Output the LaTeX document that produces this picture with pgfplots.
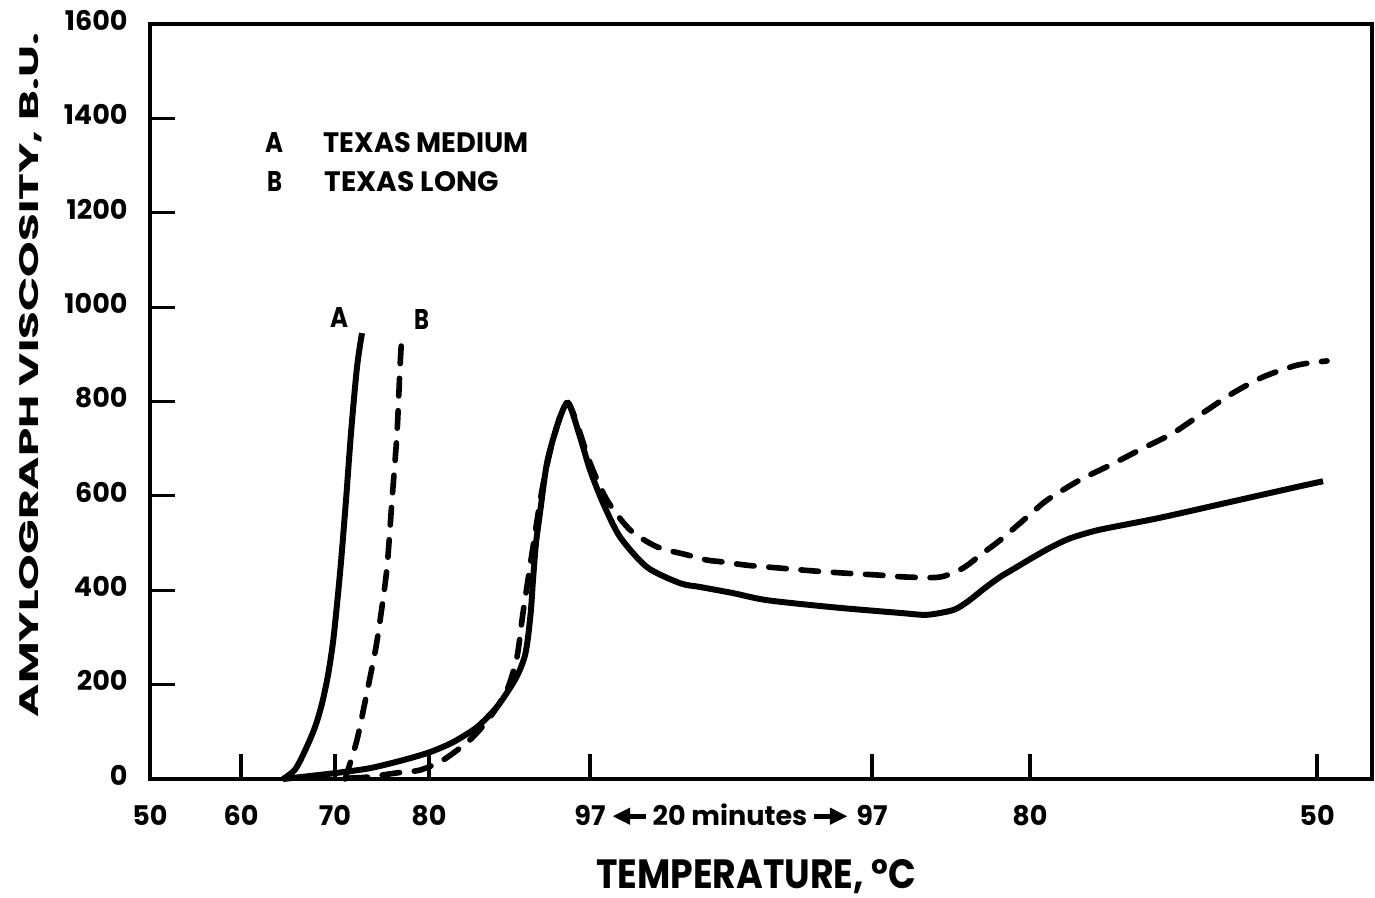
\documentclass[border=0pt]{standalone}
\usepackage{pgfplots}
\pgfplotsset{compat=1.18}
\usepackage{fontspec}
\setmainfont{Poppins}
\usetikzlibrary{arrows.meta}
\newcommand{\tl}{\bfseries\fontsize{7.7pt}{9pt}\selectfont}
\newcommand{\larr}{\tikz[baseline=-0.62ex]\draw[line width=1.3pt,{Triangle[length=5pt,width=4.5pt]}-](0pt,0pt)--(9.5pt,0pt);}
\newcommand{\rarr}{\tikz[baseline=-0.62ex]\draw[line width=1.3pt,-{Triangle[length=5pt,width=4.5pt]}](0pt,0pt)--(9.5pt,0pt);}
\newcommand{\midlabel}{\larr\,20 minutes\,\rarr}
\begin{document}
\begin{tikzpicture}
\begin{axis}[
  at={(0,0)}, anchor=south west,
  scale only axis, width=12.22cm, height=7.55cm,
  xmin=0, xmax=1222, ymin=0, ymax=1600,
  axis line style={line width=1.4pt},
  xtick={0,91,185,279,440,722,880,1167},
  xticklabels={50,60,70,80,97,97,80,50},
  extra x ticks={580},
  extra x tick labels={{\midlabel}},
  extra x tick style={major tick length=0pt},
  ytick={0,200,...,1600},
  xtick pos=bottom, ytick pos=left,
  tick align=inside,
  major tick length=0.25cm,
  every tick/.style={line width=0.9pt, black},
  tick label style={font=\tl},
  typeset ticklabels with strut,
  /pgf/number format/assume math mode=true,
  /pgf/number format/1000 sep={},
  yticklabel style={xshift=-0.1cm},
  xticklabel style={yshift=-0.12cm},
  xlabel={\resizebox{3.2cm}{0.29cm}{\bfseries TEMPERATURE, °C}},
  xlabel style={at={(axis description cs:0.496,-0.145)}, anchor=base, inner sep=0pt},
  ylabel={\resizebox{6.84cm}{0.19cm}{\bfseries AMYLOGRAPH VISCOSITY, B.U.}},
  ylabel style={at={(axis description cs:-0.098,0.535)}, anchor=center, inner sep=0pt},
  clip=false,
]
% Curve A (Texas Medium), early rise
\addplot[black, line width=1.7pt, smooth, tension=0.5] coordinates {
(133,0)(145,20)(155,60)(165,110)(172,160)(178,220)(183,290)(187,370)(191,460)(196,591)(201,733)(207,873)(212,945)};
% Curve B (Texas Long), early rise
\addplot[black, line width=1.6pt, smooth, tension=0.5, line cap=round, dash pattern=on 5pt off 4.2pt] coordinates {
(195,0)(198,19)(207,83)(214,153)(220,215)(226,280)(231,350)(237,449)(242,591)(247,733)(250,873)(252,945)};
% Main curve, Texas Medium (solid)
\addplot[black, line width=1.7pt, smooth, tension=0.45] coordinates {
(133,0)(187,13)(220,23)(253,40)(280,57)(303,78)(327,110)(347,153)(363,203)(370,232)(375,262)(378,300)(381,360)(383,422)(386,500)(390,564)(397,670)(408,754)(418,797)(430,725)(440,655)(453,585)(470,513)(497,449)(530,415)(550,407)(583,394)(617,379)(683,364)(750,352)(777,348)(803,358)(817,375)(835,405)(850,428)(865,447)(880,466)(900,490)(920,510)(947,527)(980,541)(1013,555)(1080,587)(1147,619)(1173,631)};
% Main curve, Texas Long (dashed)
\addplot[black, line width=1.6pt, smooth, tension=0.45, line cap=round, dash pattern=on 5pt off 4.2pt] coordinates {
(200,2)(217,4)(247,13)(270,19)(293,40)(320,83)(340,131)(357,189)(367,259)(373,352)(383,492)(392,612)(403,718)(418,797)(440,670)(457,591)(480,528)(507,492)(537,475)(557,464)(573,460)(597,453)(630,447)(663,441)(697,436)(730,432)(757,428)(790,428)(813,447)(833,479)(850,506)(877,555)(897,591)(930,634)(960,665)(993,701)(1023,733)(1053,776)(1083,818)(1113,852)(1147,877)(1177,886)};
% legend text
\node[inner sep=0pt, anchor=center] at (axis cs:124,1348) {\resizebox{0.18cm}{0.20cm}{\bfseries A}};
\node[inner sep=0pt, anchor=center] at (axis cs:125,1267) {\resizebox{0.15cm}{0.20cm}{\bfseries B}};
\node[inner sep=0pt, anchor=west] at (axis cs:173,1348) {\resizebox{2.05cm}{0.20cm}{\bfseries TEXAS MEDIUM}};
\node[inner sep=0pt, anchor=west] at (axis cs:174,1267) {\resizebox{1.74cm}{0.20cm}{\bfseries TEXAS LONG}};
% curve labels
\node[inner sep=0pt, anchor=center] at (axis cs:189,977) {\resizebox{0.18cm}{0.20cm}{\bfseries A}};
\node[inner sep=0pt, anchor=center] at (axis cs:272,973) {\resizebox{0.15cm}{0.20cm}{\bfseries B}};
\end{axis}
\pgfresetboundingbox
\path (-1.50,-1.18) rectangle (12.25,7.79);
\end{tikzpicture}
\end{document}
